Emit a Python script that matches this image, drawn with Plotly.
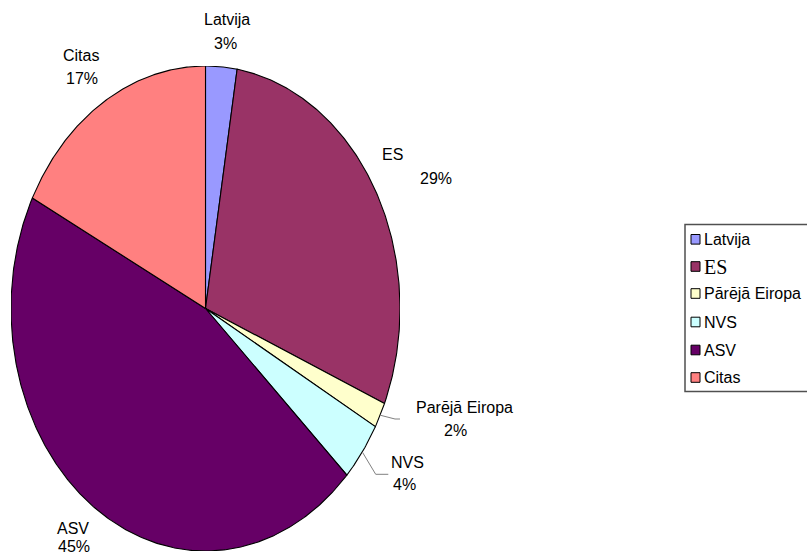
import numpy as np
import plotly.graph_objects as go

# Data: share of each region (percent of total)
categories = ["Latvija", "ES", "Pārējā Eiropa", "NVS", "ASV", "Citas"]
slice_labels = ["Latvija", "ES", "Parējā Eiropa", "NVS", "ASV", "Citas"]
shares = [2.6, 28.8, 1.7, 3.95, 45.48, 17.47]
colors = ["#9999FF", "#993366", "#FFFFCC", "#CCFFFF", "#660066", "#FF8080"]

W, H = 807, 556
# Elliptical pie frame in pixels (centre and radii)
CX, CY, RX, RY = 205.5, 308.5, 194.5, 242.5

FONT = "Liberation Sans, Arial, sans-serif"


def px_to_paper(x, y):
    return x / W, 1 - y / H


def px_to_data(x, y):
    return (x - CX) / RX, (CY - y) / RY


total = float(sum(shares))
fracs = [v / total for v in shares]
starts = np.concatenate([[0.0], np.cumsum(fracs)[:-1]])

fig = go.Figure()

# Slices: clockwise from 12 o'clock, drawn on unit axes stretched into an ellipse
for name, frac, start, color in zip(categories, fracs, starts, colors):
    n = max(3, int(round(frac * 720)))
    t = np.linspace(start, start + frac, n) * 2 * np.pi
    xs = np.concatenate([[0.0], np.sin(t), [0.0]])
    ys = np.concatenate([[0.0], np.cos(t), [0.0]])
    fig.add_trace(go.Scatter(
        x=xs, y=ys, mode="lines", fill="toself", fillcolor=color,
        line=dict(color="black", width=1.1), name=name,
        showlegend=False, hoverinfo="skip",
    ))

# Leader lines for the two narrow slices
leader_elbows = {2: [(395, 419), (406.7, 419)], 3: [(375.7, 474.3), (388.3, 474.3)]}
for i, pts in leader_elbows.items():
    mid = (starts[i] + fracs[i] / 2) * 2 * np.pi
    lx = [np.sin(mid)] + [px_to_data(*p)[0] for p in pts]
    ly = [np.cos(mid)] + [px_to_data(*p)[1] for p in pts]
    fig.add_trace(go.Scatter(
        x=lx, y=ly, mode="lines", line=dict(color="#808080", width=1),
        showlegend=False, hoverinfo="skip",
    ))

# Category and percentage labels around the pie
name_pos = [(227, 19), (392, 154.5), (464.5, 407), (407.5, 462), (73, 528), (81, 55)]
pct_pos = [(225, 43.5), (436, 178.5), (455, 430.5), (404, 484), (74, 546.5), (82, 78.5)]
annotations = []
for lab, frac, npos, ppos in zip(slice_labels, fracs, name_pos, pct_pos):
    for text, pos in ((lab, npos), (f"{round(frac * 100)}%", ppos)):
        x, y = px_to_paper(*pos)
        annotations.append(dict(
            x=x, y=y, xref="paper", yref="paper", text=text, showarrow=False,
            xanchor="center", yanchor="middle",
            font=dict(family=FONT, size=16, color="black"),
        ))

# Legend box with swatches
shapes = []
bx0, by0 = px_to_paper(685, 224.5)
bx1, by1 = px_to_paper(815, 391.5)
shapes.append(dict(type="rect", xref="paper", yref="paper", x0=bx0, y0=by1, x1=bx1, y1=by0,
                   line=dict(color="#505050", width=1.5), fillcolor="white", layer="below"))
legend_y = [239.3, 266.5, 293.5, 322, 350, 377.5]
for name, color, ly in zip(categories, colors, legend_y):
    sx0, sy0 = px_to_paper(691, ly - 4.8)
    sx1, sy1 = px_to_paper(700, ly + 4.8)
    shapes.append(dict(type="rect", xref="paper", yref="paper", x0=sx0, y0=sy1, x1=sx1, y1=sy0,
                       line=dict(color="black", width=1), fillcolor=color))
    if name == "ES":
        f = dict(family="Liberation Serif, Times New Roman, serif", size=20, color="black")
    else:
        f = dict(family=FONT, size=16, color="black")
    tx, ty = px_to_paper(702, ly)
    annotations.append(dict(
        x=tx, y=ty, xref="paper", yref="paper", text=name, showarrow=False,
        xanchor="left", yanchor="middle", font=f,
    ))

fig.update_layout(
    width=W, height=H, autosize=False,
    margin=dict(l=0, r=0, t=0, b=0),
    paper_bgcolor="white", plot_bgcolor="white",
    showlegend=False,
    xaxis=dict(range=[-1, 1], domain=[(CX - RX) / W, (CX + RX) / W],
               visible=False, fixedrange=True),
    yaxis=dict(range=[-1, 1], domain=[1 - (CY + RY) / H, 1 - (CY - RY) / H],
               visible=False, fixedrange=True),
    annotations=annotations,
    shapes=shapes,
)

fig.write_html("out.html")
